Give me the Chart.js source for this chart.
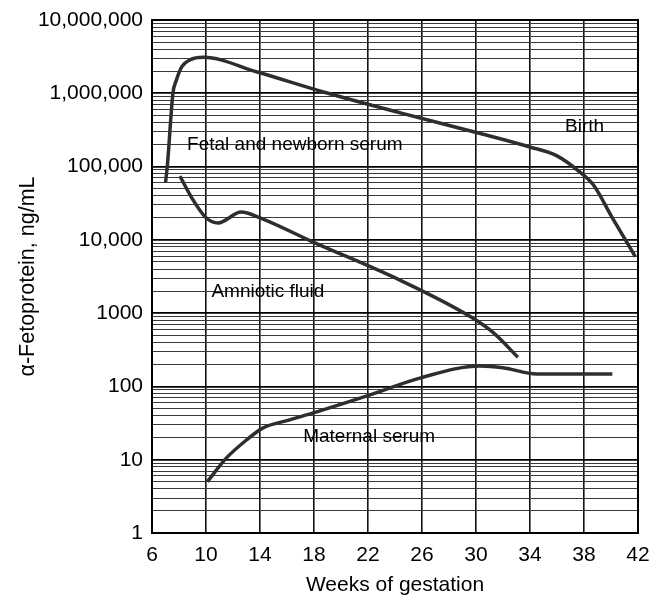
<!DOCTYPE html>
<html>
<head>
<meta charset="utf-8">
<script src="https://cdn.jsdelivr.net/npm/chart.js@4/dist/chart.umd.min.js"></script>
<style>
  html, body { margin: 0; padding: 0; background: #fff; }
  #wrap { width: 649px; height: 596px; }
</style>
</head>
<body>
<div id="wrap"><canvas id="c" width="649" height="596"></canvas></div>
<script>
// ---- Data ----
const fetalWeeks  = [7.0, 7.15, 7.55, 7.8, 8.2, 8.8, 9.8, 13.8, 18.7, 24.4, 30.1, 34.0, 36.0, 37.7, 38.7, 40.1, 41.8];
const fetalValues = [60000, 110000, 1000000, 1500000, 2300000, 2850000, 3100000, 1950000, 1040000, 540000, 290000, 185000, 140000, 84000, 56000, 20000, 5900];

const amnioticWeeks  = [8.07, 9.0, 10.0, 10.9, 12.6, 14.0, 17.9, 24.4, 29.6, 31.3, 33.1];
const amnioticValues = [74000, 36000, 20000, 17000, 24000, 20000, 9400, 2800, 890, 537, 250];

const maternalWeeks  = [10.1, 11.5, 13.0, 14.2, 16.2, 18.2, 22.1, 25.9, 30.3, 32.0, 34.5, 37.9, 40.1];
const maternalValues = [5, 10.5, 18.6, 27, 35, 45, 76, 131, 190, 180, 148, 148, 148];

const xTicks = [6, 10, 14, 18, 22, 26, 30, 34, 38, 42];
const yMajorTicks = [1, 10, 100, 1000, 10000, 100000, 1000000, 10000000];
const yTickLabels = ['1', '10', '100', '1000', '10,000', '100,000', '1,000,000', '10,000,000'];

const curveLabels = ['Fetal and newborn serum', 'Birth', 'Amniotic fluid', 'Maternal serum'];
const curveLabelWeeks = [8.6, 36.6, 10.4, 17.2];
const curveLabelValues = [197000, 347000, 1950, 20.5];

const xTitle = 'Weeks of gestation';
const yTitle = 'α-Fetoprotein, ng/mL';

// ---- Build ----
const FONT = "'Liberation Sans', Arial, Helvetica, sans-serif";
function pts(xs, ys) { return xs.map((x, i) => ({ x: x, y: ys[i] })); }

const lineStyle = {
  borderColor: '#2e2e2e',
  borderWidth: 3.5,
  pointRadius: 0,
  fill: false,
  cubicInterpolationMode: 'monotone'
};

const labelPlugin = {
  id: 'curveLabels',
  afterDatasetsDraw(chart) {
    const ctx = chart.ctx;
    const xs = chart.scales.x, ys = chart.scales.y;
    ctx.save();
    ctx.font = "19px " + FONT;
    ctx.fillStyle = '#000';
    ctx.textAlign = 'left';
    ctx.textBaseline = 'middle';
    curveLabels.forEach((t, i) => {
      ctx.fillText(t, xs.getPixelForValue(curveLabelWeeks[i]), ys.getPixelForValue(curveLabelValues[i]));
    });
    ctx.restore();
  }
};

const bgPlugin = {
  id: 'bg',
  beforeDraw(chart) {
    const ctx = chart.ctx;
    ctx.save();
    ctx.fillStyle = '#fff';
    ctx.fillRect(0, 0, chart.width, chart.height);
    ctx.restore();
  },
  afterDraw(chart) {
    const a = chart.chartArea, ctx = chart.ctx;
    ctx.save();
    ctx.strokeStyle = '#000';
    ctx.lineWidth = 2;
    ctx.strokeRect(a.left, a.top, a.right - a.left, a.bottom - a.top);
    ctx.restore();
  }
};

new Chart(document.getElementById('c'), {
  type: 'line',
  data: {
    datasets: [
      Object.assign({ label: 'Fetal and newborn serum', data: pts(fetalWeeks, fetalValues) }, lineStyle),
      Object.assign({ label: 'Amniotic fluid', data: pts(amnioticWeeks, amnioticValues) }, lineStyle),
      Object.assign({ label: 'Maternal serum', data: pts(maternalWeeks, maternalValues) }, lineStyle)
    ]
  },
  options: {
    responsive: false,
    animation: false,
    events: [],
    layout: { padding: { top: 20, right: 11, left: 0, bottom: 0 } },
    plugins: { legend: { display: false }, tooltip: { enabled: false } },
    scales: {
      x: {
        type: 'linear',
        min: 6, max: 42,
        afterBuildTicks(scale) { scale.ticks = xTicks.map(v => ({ value: v })); },
        afterFit(scale) { scale.height = 63; scale.paddingRight = 0; scale.paddingLeft = 0; },
        ticks: { color: '#000', font: { size: 21, family: FONT }, padding: 10, maxRotation: 0,
                 callback: v => String(v) },
        grid: { color: '#111', lineWidth: 1.6, drawTicks: false },
        border: { color: '#000', width: 2 },
        title: { display: true, text: xTitle, color: '#000', font: { size: 21, family: FONT }, padding: { top: 0, bottom: -2 } }
      },
      y: {
        type: 'logarithmic',
        min: 1, max: 10000000,
        afterBuildTicks(scale) {
          const t = [];
          for (let k = 0; k < yMajorTicks.length; k++) {
            const base = yMajorTicks[k];
            if (k === yMajorTicks.length - 1) { t.push({ value: base, major: true }); break; }
            for (let m = 1; m <= 9; m++) t.push({ value: base * m, major: m === 1 });
          }
          scale.ticks = t;
        },
        afterFit(scale) { scale.width = 152; scale.paddingTop = 0; scale.paddingBottom = 0; },
        ticks: {
          color: '#000', font: { size: 21, family: FONT }, padding: 9, autoSkip: false,
          callback: function (v) {
            const i = yMajorTicks.indexOf(v);
            return i >= 0 ? yTickLabels[i] : '';
          }
        },
        grid: {
          drawTicks: false,
          color: ctx => (ctx.tick && yMajorTicks.indexOf(ctx.tick.value) >= 0) ? '#000' : '#3a3a3a',
          lineWidth: ctx => (ctx.tick && yMajorTicks.indexOf(ctx.tick.value) >= 0) ? 1.8 : 1
        },
        border: { color: '#000', width: 2 },
        title: { display: true, text: yTitle, color: '#000', font: { size: 21.5, family: FONT }, padding: { top: 15, bottom: 0 } }
      }
    }
  },
  plugins: [bgPlugin, labelPlugin]
});
</script>
</body>
</html>
